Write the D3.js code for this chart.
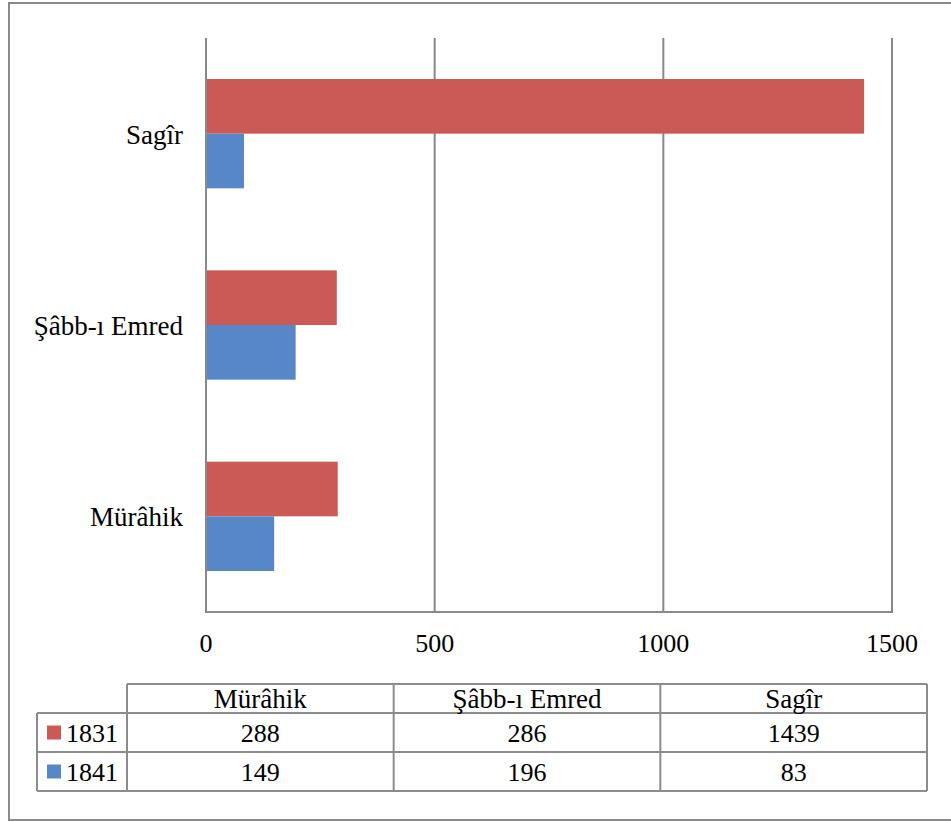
<!DOCTYPE html>
<html>
<head>
<meta charset="utf-8">
<script src="https://cdn.jsdelivr.net/npm/d3@7"></script>
</head>
<body style="margin:0">
<svg id="chart" width="951" height="822"></svg>
<script>
// ---- data ----
const categories = ["Mürâhik", "Şâbb-ı Emred", "Sagîr"];
const seriesNames = ["1831", "1841"];
const values1831 = [288, 286, 1439];
const values1841 = [149, 196, 83];
const tickValues = [0, 500, 1000, 1500];
const seriesColors = ["#CB5955", "#5787C7"];

const seriesValues = [values1831, values1841];
const svg = d3.select("#chart");
const gridColor = "#898989";
const wordStyle = "font-family: 'Liberation Serif', 'Times New Roman', serif; font-size: 27px;";
const numStyle = "font-family: 'Liberation Serif', 'Times New Roman', serif; font-size: 26px;";

// outer frame
svg.append("rect")
  .attr("x", 9).attr("y", 3).attr("width", 960).attr("height", 817)
  .attr("fill", "none").attr("stroke", "#8a8a8a").attr("stroke-width", 2);

// scales
const x = d3.scaleLinear().domain([0, 1500]).range([206, 892]);
const y = d3.scaleBand().domain(categories.slice().reverse()).range([38, 612]).padding(0);
const ySub = d3.scaleBand().domain(seriesNames).range([0, y.bandwidth()])
  .paddingInner(0).paddingOuter(0.75);

// gridlines
svg.append("g").selectAll("line").data(tickValues).join("line")
  .attr("x1", d => x(d)).attr("x2", d => x(d))
  .attr("y1", 38).attr("y2", 612)
  .attr("stroke", gridColor).attr("stroke-width", 2);

svg.append("line")
  .attr("x1", x(0) - 1).attr("x2", x(1500) + 1)
  .attr("y1", 612).attr("y2", 612)
  .attr("stroke", gridColor).attr("stroke-width", 2);

// bars
const barData = [];
categories.forEach((c, i) => {
  seriesNames.forEach((s, j) => {
    barData.push({ cat: c, series: s, value: seriesValues[j][i], color: seriesColors[j] });
  });
});
svg.append("g").selectAll("rect").data(barData).join("rect")
  .attr("x", x(0) + 1)
  .attr("y", d => y(d.cat) + ySub(d.series))
  .attr("width", d => x(d.value) - x(0) - 1)
  .attr("height", ySub.bandwidth())
  .attr("fill", d => d.color);

svg.append("line")
  .attr("x1", x(0)).attr("x2", x(0))
  .attr("y1", 38).attr("y2", 613)
  .attr("stroke", gridColor).attr("stroke-width", 2);

// category labels
svg.append("g").selectAll("text").data(categories).join("text")
  .attr("x", 183)
  .attr("y", d => y(d) + y.bandwidth() / 2 + 10)
  .attr("text-anchor", "end")
  .attr("style", wordStyle)
  .text(d => d);

// tick labels
svg.append("g").selectAll("text").data(tickValues).join("text")
  .attr("x", d => x(d))
  .attr("y", 652)
  .attr("text-anchor", "middle")
  .attr("style", numStyle)
  .text(d => d);

// ---- data table ----
const colX = d3.scaleBand().domain(categories).range([127, 927]);
const rowTop = 684, headerBottom = 713, rowH = 39;
const tableLeft = 37;
const tg = svg.append("g");
const tableStroke = "#8c8c8c";
function hline(x1, x2, yv) {
  tg.append("line").attr("x1", x1).attr("x2", x2).attr("y1", yv).attr("y2", yv)
    .attr("stroke", tableStroke).attr("stroke-width", 2);
}
function vline(xv, y1, y2) {
  tg.append("line").attr("x1", xv).attr("x2", xv).attr("y1", y1).attr("y2", y2)
    .attr("stroke", tableStroke).attr("stroke-width", 2);
}
const tableBottom = headerBottom + rowH * seriesNames.length;
hline(127, 927, rowTop);
hline(tableLeft, 927, headerBottom);
seriesNames.forEach((s, j) => hline(tableLeft, 927, headerBottom + rowH * (j + 1)));
vline(tableLeft, headerBottom, tableBottom);
categories.forEach(c => vline(colX(c), rowTop, tableBottom));
vline(927, rowTop, tableBottom);

tg.selectAll("text.hdr").data(categories).join("text").attr("class", "hdr")
  .attr("x", d => colX(d) + colX.bandwidth() / 2)
  .attr("y", (rowTop + headerBottom) / 2 + 9)
  .attr("text-anchor", "middle")
  .attr("style", wordStyle)
  .text(d => d);

seriesNames.forEach((s, j) => {
  const cy = headerBottom + rowH * j + rowH / 2;
  tg.append("rect")
    .attr("x", 47).attr("y", cy - 7).attr("width", 14).attr("height", 14)
    .attr("fill", seriesColors[j]);
  tg.append("text")
    .attr("x", 66).attr("y", cy + 9)
    .attr("style", numStyle)
    .text(s);
  tg.append("g").selectAll("text").data(categories).join("text")
    .attr("x", d => colX(d) + colX.bandwidth() / 2)
    .attr("y", cy + 9)
    .attr("text-anchor", "middle")
    .attr("style", numStyle)
    .text((d, i) => seriesValues[j][i]);
});
</script>
</body>
</html>
